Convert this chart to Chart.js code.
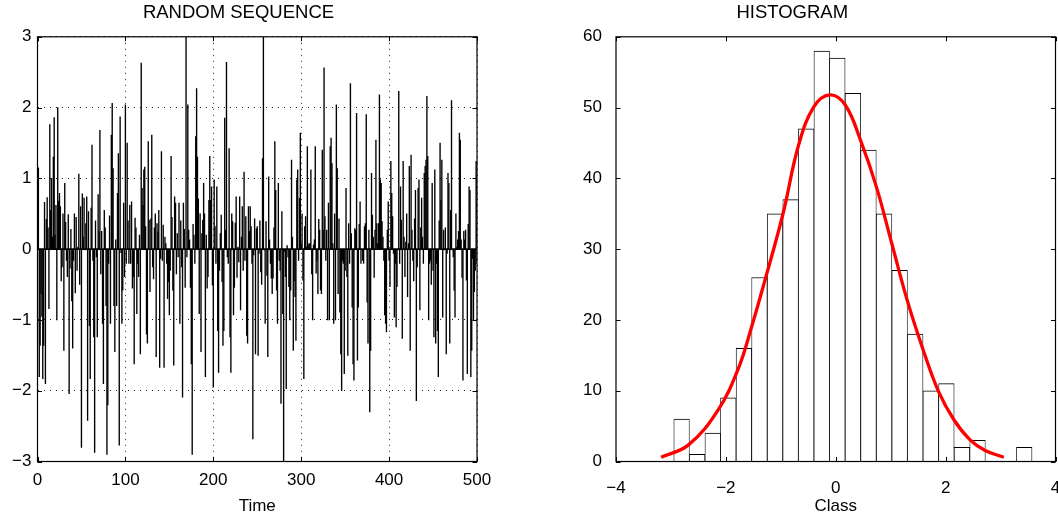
<!DOCTYPE html>
<html>
<head>
<meta charset="utf-8">
<script src="https://cdn.jsdelivr.net/npm/chart.js@4/dist/chart.umd.min.js"></script>
<style>
    html, body { margin: 0; padding: 0; background: #fff; }
    #wrap { position: relative; width: 1058px; height: 517px; overflow: hidden; }
    canvas { position: absolute; top: 0; }
    #seqChart { left: 0; }
    #histChart { left: 529px; }
</style>
</head>
<body>
<div id="wrap">
    <canvas id="seqChart" width="529" height="517"></canvas>
    <canvas id="histChart" width="529" height="517"></canvas>
</div>
<script>
// random sequence (t = 1..500)
var seqValues = [
    1.15, -1.8, -1.36, -0.63, -0.95, -1.83, -1.36, 0.66, -1.9, 0.42,
    0.73, 0.3, -0.84, 1.76, 0.55, 1.0, 0.17, 1.3, 1.86, 0.2,
    0.62, -1.0, 2.0, 0.68, 0.79, 0.6, -0.45, -0.25, 0.5, -1.43,
    0.93, 0.38, -0.16, -0.39, 0.49, -2.04, -0.27, 0.28, -0.73, -1.4,
    -0.16, 0.5, -0.62, 0.45, -0.3, 0.03, 1.06, -0.5, 0.6,
    -2.8, 0.78, 0.17, 0.72, -0.01, 0.36, 0.74, -2.42, 0.53, -1.08,
    -1.83, 0.58, 1.47, -0.16, -1.24, -2.87, 0.4, -0.11, -1.24, 0.77,
    0.25, 1.68, -0.35, 0.25, -1.05, -1.9, 0.55, 0.3, -0.8, -2.9,
    -2.2, -0.2, 0.47, -1.05, 1.61, 2.06, 1.14, -0.8, -1.45, 0.13,
    -0.8, 0.79, 1.35, -2.77, 1.87, -0.05, -1.05, -0.58, 0.65, -0.39,
    2.04, -0.2, 1.5, 0.4, -0.2, 0.62, -0.2, 0.67, -0.55, -0.39,
    -1.62, 0.44, 0.3, -0.91, -0.2, -0.39, 0.2, -1.48, 2.63, 0.86,
    0.62, 1.12, 1.16, 0.32,
    -1.2, -1.33, 1.52, 0.41, -0.6, 0.43, 1.61, -0.25, -0.42, 0.3,
    0.5, -1.52, 0.36, 0.24, 0.55, -1.67, -0.13, 1.38, -0.16, 0.34,
    -1.67, 0.17, 0.08, -0.2, -0.7, -0.46, -0.93, -0.3, 1.31, 0.45,
    -0.58, -1.64, 0.74, 0.65, -0.35, 0.22, -0.11, 0.65, -1.05, 0.4,
    -0.25, -2.09, 0.65, 0.28, -0.54, 3.0,
    -0.11, 2.04, 0.27, 0.13, -0.54, -1.62, -2.9, 0.35, 0.2, -0.2,
    1.59, 2.27, 1.3, 0.71, -0.91, 0.5, -1.45, 0.22, 0.41, 0.93,
    0.5, -1.8, 0.2, -0.55, -0.39, 0.69, 1.31, 0.69, 0.88, -0.51,
    -1.95, 0.98, 0.32, -0.2, 0.88, -1.15, -1.74, -0.3, 0.22, 0.48,
    -0.46, -1.36, -1.15, 1.85, 0.27, 2.64,
    -0.11, -0.2, 1.42, -1.24, -1.74, 0.5, 0.39, -0.93, -0.54, 0.37,
    0.74, -0.4, 0.03, -0.18, 0.74, -0.86, 0.17, 0.6, -0.3, 1.09,
    -0.16, 0.46, -1.22, -1.33, 0.6, 0.25, 0.6, 0.32, -0.2, -2.68,
    -0.08, 0.43, -1.48, 0.29, 0.32, -1.5,
    -0.06, 0.4, -0.32, -0.5, 1.28, 3.0, -0.01, -1.05, 0.39, -0.37,
    -1.52, 1.02, 0.13, -0.2, -0.41, -0.63, -0.41, 0.3, 1.52, 0.83,
    -0.58, -1.05, 0.93, -0.16, -0.3, -2.18, 0.53, -0.91, -3.0, -0.03,
    -0.39, -1.97, 0.05, -0.11, -0.53, -1.0, -0.58, 1.26, 0.17, -1.43,
    -0.45, -0.67, -1.29, 0.98, 1.12, -0.16, 0.72, 1.64, 0.08, 0.5,
    -0.44, -1.83, 0.32, 0.46, 0.03, 1.45, 0.06, 0.08, 0.08, 1.12,
    -0.35, -1.0, 0.06, 0.13, 1.45, -0.34, -0.16, -0.63, 0.42, 0.27,
    -0.58, -0.63, 1.4, 0.27, 2.56, 0.46, -0.16, 0.27, -1.0, 0.65,
    -1.0, 1.45, 1.57, 1.21, 0.08, -1.05, 0.5, -1.0, 2.04, 1.14,
    -0.63, 0.43, -0.89, -1.48, -2.0, -0.16, -0.2, -1.76, -0.3, 0.86,
    -0.39, -1.5, 0.36, -0.2, 2.34, 0.22, -0.82, -1.62, -1.85, 0.29,
    0.27, 1.92, -1.57, -0.82, 0.35, 0.67, -0.2, -0.01, -0.16, -0.2,
    0.32, 0.36, 1.9, -0.75, -1.33, 0.27,
    -2.3, -1.43, 1.07, 0.48, 0.17, -0.4, 0.27, 1.54, 0.36, 0.08,
    0.36, 2.18, 0.98, 0.93, 0.39, 0.17, -0.16, -0.93, -1.05, -1.17,
    0.27, 0.67, -0.16, -0.53, 1.24, 0.79, 0.46, -0.06, -0.96, -0.2,
    -1.1, -0.53, -0.01, 2.23, -0.2, 0.88, 0.41, -1.26, 1.24, 0.17,
    -0.39, 0.1, 0.5, -0.67, 0.08, 1.17, -1.43, 1.33, 0.27, -0.16,
    -0.45, 0.43, 0.83, -2.14, -0.25, 0.86, 0.98, -0.86, 0.3, 0.72,
    0.17, -0.2, 1.07, 1.17, 1.26, 2.16, 1.31, -1.0, -0.2, -0.16,
    -0.5, 0.93, -0.3, -1.24, 1.12, -1.33, -0.2, -1.15, -1.8, 0.4,
    1.5, 0.69, 1.26, -0.96, 0.27, -0.01, 0.3, -1.48, -0.06, 1.07,
    0.93, -1.33, 0.55, 2.1, -0.01, -0.11, -0.58, -0.96, 0.5, 0.03,
    0.13, 0.25, 1.64, 1.54, 0.13, -0.4, -1.85, 0.25, 0.13, 0.27,
    -0.44, -1.76, 0.35, 0.88, 0.83, -1.8, -1.43, -0.13, -1.0, -0.6,
    -0.3, 1.24, -0.2
];

// histogram classes (bin centres) and counts
var histCenters = [-2.806, -2.523, -2.239, -1.956, -1.672, -1.389, -1.105, -0.822, -0.538, -0.255,
    0.029, 0.313, 0.596, 0.880, 1.163, 1.447, 1.730, 2.014, 2.297, 2.581, 2.864, 3.148, 3.431];
var histCounts = [6, 1, 4, 9, 16, 26, 35, 37, 47, 58, 57, 52, 44, 35, 27, 18, 10, 11, 2, 3, 0, 0, 2];

// fitted curve
var fitX = [-3.18, -2.68, -2.14, -1.77, -1.54, -1.30, -0.96, -0.68, -0.40, -0.11, 0.17,
    0.45, 0.74, 1.02, 1.30, 1.59, 1.87, 2.15, 2.44, 2.72, 3.06];
var fitY = [0.6, 2.35, 7.3, 13.2, 18.8, 25.3, 35.0, 44.6, 50.1, 51.8, 50.4,
    45.4, 38.8, 30.8, 22.8, 15.8, 9.9, 5.9, 3.1, 1.55, 0.6];

var FONT = '"Liberation Sans", Arial, Helvetica, sans-serif';

function minus(v) {
    return String(v).replace('-', '\u2212');
}

// box round the axes, inward ticks on all four sides, optional zero line
var framePlugin = {
    id: 'frame',
    afterDatasetsDraw: function (chart, args, opts) {
        var ctx = chart.ctx, a = chart.chartArea;
        var xs = chart.scales.x, ys = chart.scales.y;
        var L = 4.5;
        ctx.save();
        ctx.strokeStyle = '#000';
        if (opts.zeroLine) {
            var y0 = ys.getPixelForValue(0);
            ctx.lineWidth = 1.6;
            ctx.beginPath();
            ctx.moveTo(a.left, y0);
            ctx.lineTo(a.right, y0);
            ctx.stroke();
        }
        ctx.lineWidth = 1;
        ctx.beginPath();
        xs.ticks.forEach(function (t) {
            var px = Math.round(xs.getPixelForValue(t.value)) + 0.5;
            ctx.moveTo(px, a.bottom); ctx.lineTo(px, a.bottom - L);
            ctx.moveTo(px, a.top); ctx.lineTo(px, a.top + L);
        });
        ys.ticks.forEach(function (t) {
            var py = Math.round(ys.getPixelForValue(t.value)) + 0.5;
            ctx.moveTo(a.left, py); ctx.lineTo(a.left + L, py);
            ctx.moveTo(a.right, py); ctx.lineTo(a.right - L, py);
        });
        ctx.stroke();
        ctx.lineWidth = 1.2;
        ctx.strokeRect(a.left, a.top, a.right - a.left, a.bottom - a.top);
        ctx.restore();
    }
};

function tickFont() {
    return {family: FONT, size: 17};
}

function titleOpts(text) {
    return {
        display: true,
        text: text,
        color: '#000',
        font: {family: FONT, size: 18.5, weight: 'normal', lineHeight: 1.2},
        padding: {top: 2, bottom: 12.6}
    };
}

function xTitle(text) {
    return {
        display: true,
        text: text,
        color: '#000',
        font: {family: FONT, size: 17, lineHeight: 1.2},
        padding: {top: 0, bottom: 0}
    };
}

function fixX(s) {
    s.height = 55.5;
    s.paddingLeft = 0;
    s.paddingRight = 0;
}

// left: random sequence as thin stems
new Chart(document.getElementById('seqChart'), {
    type: 'bar',
    data: {
        datasets: [{
            data: seqValues.map(function (v, i) { return {x: i + 1, y: v}; }),
            backgroundColor: '#000',
            borderWidth: 0,
            barThickness: 0.7
        }]
    },
    options: {
        responsive: false,
        animation: false,
        layout: {padding: {left: 0, right: 52, top: 0, bottom: 0}},
        plugins: {
            legend: {display: false},
            tooltip: {enabled: false},
            title: titleOpts('RANDOM SEQUENCE'),
            frame: {zeroLine: true}
        },
        scales: {
            x: {
                type: 'linear',
                min: 0,
                max: 500,
                offset: false,
                ticks: {stepSize: 100, color: '#000', font: tickFont(), padding: 9, maxRotation: 0},
                grid: {color: '#222', offset: false, drawTicks: false},
                border: {display: false, dash: [1, 5]},
                title: xTitle('Time'),
                afterFit: fixX
            },
            y: {
                min: -3,
                max: 3,
                ticks: {stepSize: 1, color: '#000', font: tickFont(), padding: 6, callback: function (v) { return minus(v); }},
                grid: {color: '#222', drawTicks: false},
                border: {display: false, dash: [1, 5]},
                afterFit: function (s) { s.width = 37.5; s.paddingTop = 0; s.paddingBottom = 0; }
            }
        }
    },
    plugins: [framePlugin]
});

// right: histogram with fitted curve
new Chart(document.getElementById('histChart'), {
    type: 'bar',
    data: {
        datasets: [{
            type: 'line',
            data: fitX.map(function (x, i) { return {x: x, y: fitY[i]}; }),
            borderColor: '#ff0000',
            borderWidth: 3.3,
            pointRadius: 0,
            tension: 0.4,
            fill: false,
            order: 1
        }, {
            data: histCenters.map(function (c, i) { return {x: c, y: histCounts[i]}; }),
            backgroundColor: '#fff',
            borderColor: '#000',
            borderWidth: {left: 0.8, right: 0.8, top: 1, bottom: 0},
            barPercentage: 1,
            categoryPercentage: 1,
            order: 2
        }]
    },
    options: {
        responsive: false,
        animation: false,
        layout: {padding: {left: 0, right: 2.5, top: 0, bottom: 0}},
        plugins: {
            legend: {display: false},
            tooltip: {enabled: false},
            title: titleOpts('HISTOGRAM'),
            frame: {zeroLine: false}
        },
        scales: {
            x: {
                type: 'linear',
                min: -4,
                max: 4,
                offset: false,
                ticks: {stepSize: 2, color: '#000', font: tickFont(), padding: 9, maxRotation: 0, callback: function (v) { return minus(v); }},
                grid: {display: false, offset: false},
                border: {display: false},
                title: xTitle('Class'),
                afterFit: fixX
            },
            y: {
                min: 0,
                max: 60,
                ticks: {stepSize: 10, color: '#000', font: tickFont(), padding: 6},
                grid: {display: false},
                border: {display: false},
                afterFit: function (s) { s.width = 87; s.paddingTop = 0; s.paddingBottom = 0; }
            }
        }
    },
    plugins: [framePlugin]
});
</script>
</body>
</html>
